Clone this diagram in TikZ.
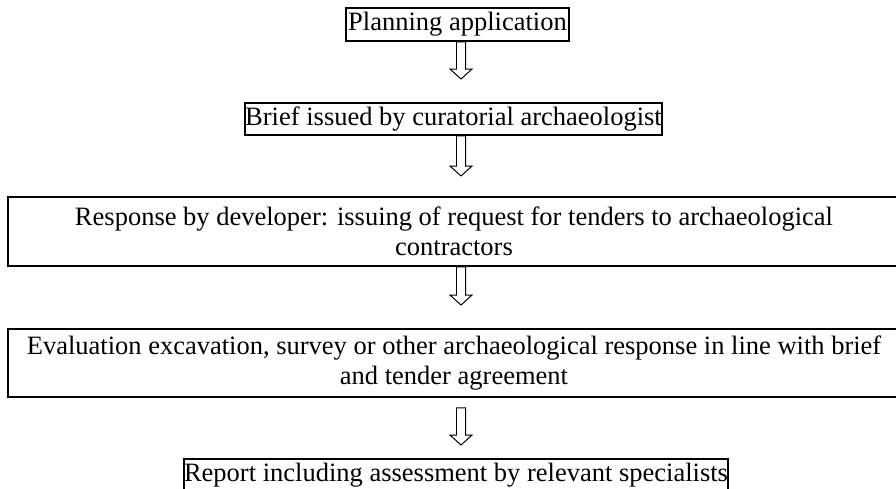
\documentclass[tikz,border=0pt]{standalone}
\usepackage{fontspec}
\setmainfont{Liberation Serif}
\usetikzlibrary{calc}
\newcommand{\pxl}{0.4528pt}
\tikzset{
    stage/.style={draw, line width=0.9pt, inner sep=0pt, align=center,
        font=\fontsize{12}{13.8}\selectfont},
    flow/.style={line width=0.45pt, to path={let \p1=(\tikztostart), \p2=(\tikztotarget) in
        (\x1-2.04pt,\y1) -- (\x1+2.04pt,\y1) -- (\x1+2.04pt,\y2+4.5pt) -- (\x1+4.98pt,\y2+4.5pt)
        -- (\x1,\y2) -- (\x1-4.98pt,\y2+4.5pt) -- (\x1-2.04pt,\y2+4.5pt) -- cycle}}
}

\begin{document}
\begin{tikzpicture}[x=0.4528pt, y=-0.4528pt]
    \useasboundingbox (0,0) rectangle (896,489);

    \node[stage, minimum width=223*\pxl, minimum height=33*\pxl] (plan) at (457.5,24.5) {Planning application};
    \node[stage, minimum width=413*\pxl, minimum height=32*\pxl] (brief) at (453.5,119) {Brief issued by curatorial archaeologist};
    \node[stage, minimum width=892*\pxl, minimum height=69*\pxl] (tender) at (454,231.5)
        {Response by developer: issuing of request for tenders to archaeological\\contractors};
    \node[stage, minimum width=892*\pxl, minimum height=68*\pxl] (fieldwork) at (454,363)
        {Evaluation excavation, survey or other archaeological response in line with brief\\and tender agreement};
    \node[stage, minimum width=540*\pxl, minimum height=33*\pxl] (report) at (456,475.5) {Report including assessment by relevant specialists};

    % hollow arrows between the stages
    \coordinate (axis) at (461,0);
    \draw[flow] (axis |- plan.south) to ($(axis |- brief.north)+(0,-23)$);
    \draw[flow] (axis |- brief.south) to ($(axis |- tender.north)+(0,-20)$);
    \draw[flow] (axis |- tender.south) to ($(axis |- fieldwork.north)+(0,-23)$);
    \draw[flow] ($(axis |- fieldwork.south)+(0,10)$) to ($(axis |- report.north)+(0,-13)$);
\end{tikzpicture}
\end{document}
